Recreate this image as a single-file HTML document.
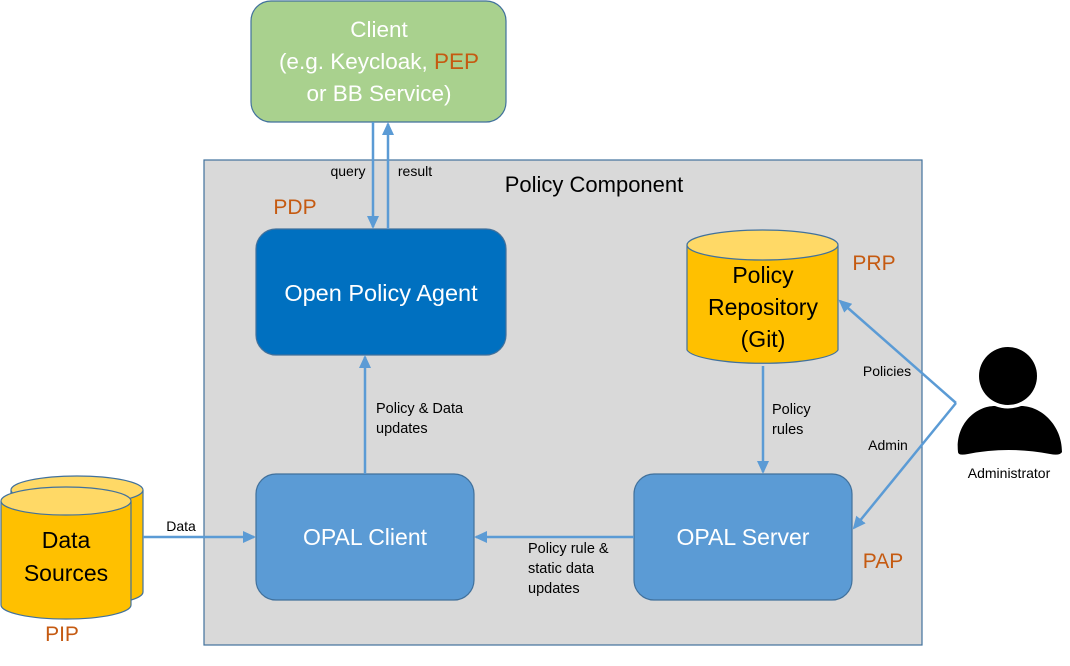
<!DOCTYPE html>
<html><head><meta charset="utf-8"><style>
html,body{margin:0;padding:0;background:#fff}
svg{display:block}
text{font-family:"Liberation Sans",sans-serif}
</style></head><body>
<svg width="1070" height="666" viewBox="0 0 1070 666" xmlns="http://www.w3.org/2000/svg">
<defs>
<marker id="ah" markerWidth="13" markerHeight="12" refX="11" refY="6" orient="auto" markerUnits="userSpaceOnUse">
<path d="M0,0 L13,6 L0,12 z" fill="#5b9bd5"/>
</marker>
</defs>
<rect x="204" y="160" width="718" height="485" fill="#d9d9d9" stroke="#41719c" stroke-width="1.2"/>
<text x="594" y="192" font-size="22" text-anchor="middle" fill="#000">Policy Component</text>

<rect x="251" y="1" width="255" height="121" rx="20" fill="#a9d18e" stroke="#41719c" stroke-width="1.2"/>
<text x="379" y="37" font-size="22.5" text-anchor="middle" fill="#fff">Client</text>
<text x="379" y="69" font-size="22.5" text-anchor="middle" fill="#fff">(e.g. Keycloak, <tspan fill="#c55a11">PEP</tspan></text>
<text x="379" y="101" font-size="22.5" text-anchor="middle" fill="#fff">or BB Service)</text>

<text x="295" y="214" font-size="21" text-anchor="middle" fill="#c55a11">PDP</text>
<rect x="256" y="229" width="250" height="126" rx="20" fill="#0070c0" stroke="#41719c" stroke-width="1.2"/>
<text x="381" y="301" font-size="23.5" text-anchor="middle" fill="#fff">Open Policy Agent</text>

<line x1="373" y1="122" x2="373" y2="227" stroke="#5b9bd5" stroke-width="2.5" marker-end="url(#ah)"/>
<line x1="388" y1="229" x2="388" y2="124" stroke="#5b9bd5" stroke-width="2.5" marker-end="url(#ah)"/>
<text x="348" y="176" font-size="14" text-anchor="middle">query</text>
<text x="415" y="176" font-size="14" text-anchor="middle">result</text>

<path d="M687,245 L687,350 A76,15 0 0 0 838,350 L838,245" fill="#ffc000" stroke="#41719c" stroke-width="1.2"/>
<ellipse cx="762.5" cy="245" rx="75.5" ry="15" fill="#ffd966" stroke="#41719c" stroke-width="1.2"/>
<text x="763" y="283" font-size="23" text-anchor="middle">Policy</text>
<text x="763" y="315" font-size="23" text-anchor="middle">Repository</text>
<text x="763" y="347" font-size="23" text-anchor="middle">(Git)</text>
<text x="874" y="270" font-size="21" text-anchor="middle" fill="#c55a11">PRP</text>

<rect x="256" y="474" width="218" height="126" rx="20" fill="#5b9bd5" stroke="#41719c" stroke-width="1.2"/>
<text x="365" y="545" font-size="23" text-anchor="middle" fill="#fff">OPAL Client</text>
<rect x="634" y="474" width="218" height="126" rx="20" fill="#5b9bd5" stroke="#41719c" stroke-width="1.2"/>
<text x="743" y="545" font-size="23" text-anchor="middle" fill="#fff">OPAL Server</text>
<text x="883" y="568" font-size="21" text-anchor="middle" fill="#c55a11">PAP</text>

<line x1="365" y1="474" x2="365" y2="357" stroke="#5b9bd5" stroke-width="2.5" marker-end="url(#ah)"/>
<text x="376" y="413" font-size="14.5">Policy &amp; Data</text>
<text x="376" y="433" font-size="14.5">updates</text>

<line x1="763" y1="366" x2="763" y2="472" stroke="#5b9bd5" stroke-width="2.5" marker-end="url(#ah)"/>
<text x="772" y="414" font-size="14.5">Policy</text>
<text x="772" y="434" font-size="14.5">rules</text>

<line x1="634" y1="537" x2="476" y2="537" stroke="#5b9bd5" stroke-width="2.5" marker-end="url(#ah)"/>
<text x="528" y="553" font-size="14.5">Policy rule &amp;</text>
<text x="528" y="573" font-size="14.5">static data</text>
<text x="528" y="593" font-size="14.5">updates</text>

<path d="M11,490 L11,592 A66,14 0 0 0 143,592 L143,490" fill="#ffc000" stroke="#41719c" stroke-width="1.2"/>
<ellipse cx="77" cy="490" rx="66" ry="14" fill="#ffd966" stroke="#41719c" stroke-width="1.2"/>
<path d="M1,501 L1,605 A65,14 0 0 0 131,605 L131,501" fill="#ffc000" stroke="#41719c" stroke-width="1.2"/>
<ellipse cx="66" cy="501" rx="65" ry="14" fill="#ffd966" stroke="#41719c" stroke-width="1.2"/>
<text x="66" y="548" font-size="23" text-anchor="middle">Data</text>
<text x="66" y="581" font-size="23" text-anchor="middle">Sources</text>
<text x="62" y="641" font-size="21" text-anchor="middle" fill="#c55a11">PIP</text>

<line x1="143" y1="537" x2="254" y2="537" stroke="#5b9bd5" stroke-width="2.5" marker-end="url(#ah)"/>
<text x="181" y="531" font-size="14" text-anchor="middle">Data</text>

<line x1="956" y1="403" x2="840" y2="301" stroke="#5b9bd5" stroke-width="2.5" marker-end="url(#ah)"/>
<line x1="956" y1="403" x2="854" y2="528" stroke="#5b9bd5" stroke-width="2.5" marker-end="url(#ah)"/>
<text x="887" y="376" font-size="14" text-anchor="middle">Policies</text>
<text x="888" y="450" font-size="14" text-anchor="middle">Admin</text>

<circle cx="1008" cy="376" r="29" fill="#000"/>
<path d="M958,452 C955,425 975,406 995,406 Q1008,411 1021,406 C1041,406 1062,425 1062,452 Q1060,456 1050,454 Q1008,446 968,454 Q958,456 958,452 Z" fill="#000"/>
<text x="1009" y="478" font-size="14" text-anchor="middle">Administrator</text>
</svg>
</body></html>
